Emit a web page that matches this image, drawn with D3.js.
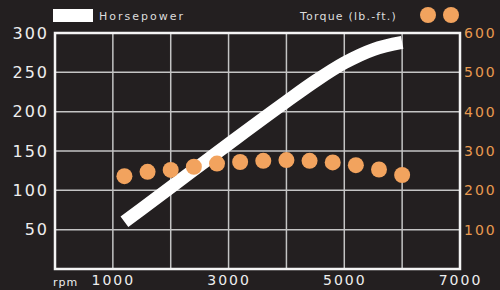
<!DOCTYPE html>
<html>
<head>
<meta charset="utf-8">
<script src="https://cdn.jsdelivr.net/npm/d3@7"></script>
<style>
  body { margin: 0; background: #231f20; }
  svg { display: block; font-family: "DejaVu Sans", sans-serif; }
</style>
</head>
<body>
<script>
// horsepower curve
const hpRpm = [1200, 2000, 3000, 4000, 4500, 5000, 5500, 6000];
const hpValues = [60, 104, 159, 213, 239, 262, 279, 288];

// torque dots every 400 rpm
const torqueRpm = [1200, 1600, 2000, 2400, 2800, 3200, 3600, 4000, 4400, 4800, 5200, 5600, 6000];
const torqueValues = [236, 247, 252, 260, 268, 272, 275, 277, 275, 271, 264, 253, 239];

const hpTicks = [50, 100, 150, 200, 250, 300];
const torqueTicks = [100, 200, 300, 400, 500, 600];
const rpmTicks = [1000, 3000, 5000, 7000];
const rpmGrid = [1000, 2000, 3000, 4000, 5000, 6000];

const width = 500;
const height = 290;
const plotLeft = 55, plotRight = 460, plotTop = 33, plotBottom = 269;

const svg = d3.select("body")
  .append("svg")
  .attr("width", width)
  .attr("height", height);

const x = d3.scaleLinear().domain([0, 7000]).range([plotLeft, plotRight]);
const yHp = d3.scaleLinear().domain([0, 300]).range([plotBottom, plotTop]);
const yTq = d3.scaleLinear().domain([0, 600]).range([plotBottom, plotTop]);

// grid lines
svg.append("g")
  .selectAll("line")
  .data(rpmGrid)
  .join("line")
  .attr("x1", d => x(d)).attr("x2", d => x(d))
  .attr("y1", plotTop).attr("y2", plotBottom)
  .attr("stroke", "#c4c4c4")
  .attr("stroke-width", 1.5);

svg.append("g")
  .selectAll("line")
  .data(hpTicks.filter(d => d < 300))
  .join("line")
  .attr("x1", plotLeft).attr("x2", plotRight)
  .attr("y1", d => yHp(d)).attr("y2", d => yHp(d))
  .attr("stroke", "#c4c4c4")
  .attr("stroke-width", 1.5);

// frame
svg.append("rect")
  .attr("x", plotLeft).attr("y", plotTop)
  .attr("width", plotRight - plotLeft).attr("height", plotBottom - plotTop)
  .attr("fill", "none")
  .attr("stroke", "#f4f4f4")
  .attr("stroke-width", 2.5);

// left axis labels
const leftAxis = svg.append("g")
  .attr("transform", `translate(${plotLeft},0)`)
  .call(d3.axisLeft(yHp).tickValues(hpTicks).tickSize(0).tickPadding(6));
leftAxis.select(".domain").remove();
leftAxis.selectAll("text")
  .attr("fill", "#eeeeee")
  .attr("font-size", 16)
  .attr("letter-spacing", 2)
  .attr("font-family", "DejaVu Sans");

// right axis labels
const rightAxis = svg.append("g")
  .attr("transform", `translate(${plotRight},0)`)
  .call(d3.axisRight(yTq).tickValues(torqueTicks).tickSize(0).tickPadding(4));
rightAxis.select(".domain").remove();
rightAxis.selectAll("text")
  .attr("fill", "#e99a50")
  .attr("font-size", 14)
  .attr("letter-spacing", 2)
  .attr("font-family", "DejaVu Sans");

// bottom axis labels
const bottomAxis = svg.append("g")
  .attr("transform", `translate(0,${plotBottom})`)
  .call(d3.axisBottom(x).tickValues(rpmTicks).tickSize(0).tickPadding(6).tickFormat(d3.format("d")));
bottomAxis.select(".domain").remove();
bottomAxis.selectAll("text")
  .attr("fill", "#eeeeee")
  .attr("font-size", 14)
  .attr("letter-spacing", 2)
  .attr("font-family", "DejaVu Sans");

svg.append("text")
  .attr("x", 53).attr("y", 286)
  .attr("fill", "#eeeeee")
  .attr("font-size", 11)
  .attr("letter-spacing", 1)
  .text("rpm");

// horsepower line
const line = d3.line()
  .x((d, i) => x(hpRpm[i]))
  .y(d => yHp(d))
  .curve(d3.curveMonotoneX);

svg.append("path")
  .datum(hpValues)
  .attr("d", line)
  .attr("fill", "none")
  .attr("stroke", "#ffffff")
  .attr("stroke-width", 13)
  .attr("stroke-linecap", "butt");

// torque dots
svg.append("g")
  .selectAll("circle")
  .data(torqueValues)
  .join("circle")
  .attr("cx", (d, i) => x(torqueRpm[i]))
  .attr("cy", d => yTq(d))
  .attr("r", 8)
  .attr("fill", "#f2a35e");

// legend
svg.append("rect")
  .attr("x", 53).attr("y", 9)
  .attr("width", 40).attr("height", 13)
  .attr("fill", "#ffffff");

svg.append("text")
  .attr("x", 99).attr("y", 20)
  .attr("fill", "#dddddd")
  .attr("font-size", 11)
  .attr("letter-spacing", 2)
  .text("Horsepower");

svg.append("text")
  .attr("x", 300).attr("y", 20)
  .attr("fill", "#dddddd")
  .attr("font-size", 11)
  .attr("letter-spacing", 1.2)
  .text("Torque (lb.-ft.)");

svg.append("g")
  .selectAll("circle")
  .data([428, 451])
  .join("circle")
  .attr("cx", d => d)
  .attr("cy", 15)
  .attr("r", 8)
  .attr("fill", "#f2a35e");
</script>
</body>
</html>
